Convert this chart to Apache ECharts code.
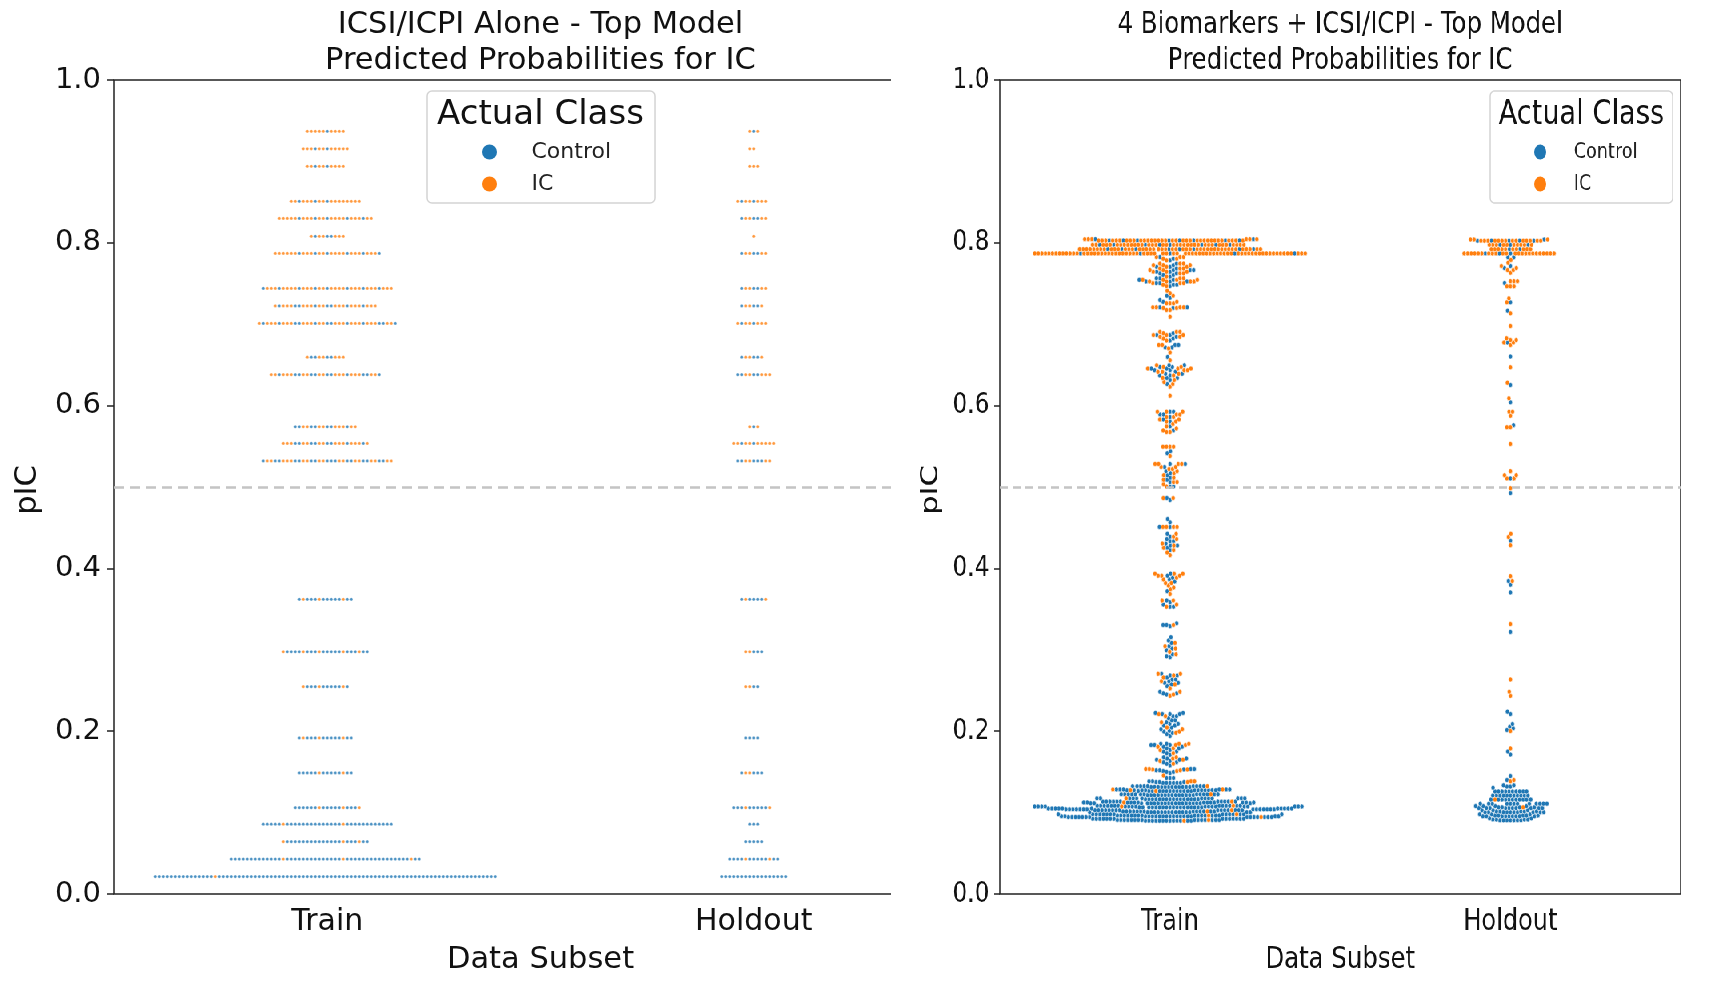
<!DOCTYPE html>
<html><head><meta charset="utf-8">
<style>
html,body{margin:0;padding:0;background:#fff;width:1712px;height:981px;overflow:hidden}
#left{position:absolute;left:0;top:0;width:1000px;height:981px;z-index:1}
#right{position:absolute;left:891px;top:0;width:1026.25px;height:981px;z-index:2;background:#fff;transform-origin:0 0;transform:scaleX(0.8)}
</style>
<script src="https://cdn.jsdelivr.net/npm/echarts@6/dist/echarts.min.js"></script>
</head><body><div id="left"></div><div id="right"></div>
<script>
const categories=['Train','Holdout'];
const classNames=['Control','IC'];
const yTicks=[0,0.2,0.4,0.6,0.8,1.0];
const leftTitle='ICSI/ICPI Alone - Top Model\nPredicted Probabilities for IC';
const rightTitle='4 Biomarkers + ICSI/ICPI - Top Model\nPredicted Probabilities for IC';
// each row: [pIC, control count, IC count]
const leftTrain=[[.0214,85,1],[.0429,45,3],[.0643,19,3],[.0858,31,2],[.106,14,3],[.1488,12,2],[.1917,11,3],[.2547,9,3],[.2976,17,5],[.362,11,3],
[.532,16,17],[.5535,8,14],[.574,7,9],[.638,11,17],[.6595,4,6],[.701,12,23],[.7225,8,18],[.744,8,25],[.787,6,21],[.808,3,6],[.83,5,19],[.851,3,15],[.894,2,8],[.9155,2,10],[.937,1,9]];
const leftHoldout=[[.0214,17,0],[.0429,11,2],[.0643,5,0],[.0858,3,0],[.106,8,2],[.1488,4,2],[.1917,4,0],[.2547,2,2],[.2976,3,2],[.362,5,2],
[.532,5,4],[.5535,2,9],[.574,1,2],[.638,4,5],[.6595,3,3],[.701,2,6],[.7225,3,3],[.744,3,4],[.787,3,4],[.808,0,1],[.83,3,4],[.851,2,6],[.894,0,3],[.9155,0,2],[.937,1,2]];
const rightTrain=[
[.09,13,1],[.091,15,1],[.0925,14,0],[.0945,14,1],
[.0955,18,0],[.0965,15,1],[.098,15,1],
[.1005,16,0],[.1015,13,1],[.103,15,1],[.104,14,0],[.105,11,0],
[.1065,18,0],[.1075,17,1],[.1085,13,1],
[.1115,20,0],[.1125,13,1],[.1135,11,1],
[.1165,16,0],[.1175,13,1],
[.1215,14,0],[.1225,13,1],
[.1265,13,1],[.1275,11,1],[.1285,6,2],
[.1315,12,0],[.1325,9,1],
[.1365,6,0],[.1375,3,1],[.1385,2,2],
[.1425,3,0],[.1455,0,1],
[.1485,1,0],[.15,2,0],[.151,1,1],[.152,2,1],[.153,1,2],[.1535,2,2],
[.158,1,0],[.16,1,1],[.162,2,0],[.1635,1,1],[.165,2,1],[.1665,2,1],[.168,1,1],
[.171,1,0],[.173,1,1],[.175,2,0],[.177,1,1],[.179,2,1],[.181,2,1],[.183,3,2],[.1845,2,2],
[.1941,1,0],[.1965,1,0],[.198,1,1],[.1995,1,1],[.2005,1,0],[.2025,1,1],[.2045,1,1],[.207,2,0],[.209,2,0],[.211,1,1],[.2135,2,0],[.216,1,0],[.2185,2,1],[.221,3,1],[.2225,2,0],
[.2434,0,1],[.245,1,1],[.2465,2,0],[.2485,1,1],[.2525,0,1],[.2555,1,0],[.2575,1,1],[.2595,2,0],[.2615,1,1],[.2635,2,0],[.266,1,1],[.2685,2,1],[.2705,1,2],
[.2908,1,0],[.292,1,0],[.2945,1,1],[.2975,0,1],[.2995,1,0],[.3015,1,1],[.3045,1,1],[.3085,1,1],[.3115,1,0],[.3155,1,0],
[.329,1,0],[.3305,2,1],[.3325,1,0],
[.3529,2,1],[.3555,1,1],[.3585,1,0],[.3605,1,2],
[.3686,0,1],[.372,1,0],[.3745,0,1],[.3765,0,1],[.379,0,1],[.382,0,2],[.384,1,0],[.3865,1,1],[.3885,1,1],[.391,1,3],[.3935,1,3],
[.4163,0,1],[.4195,0,1],[.4225,1,1],[.4255,1,1],[.428,2,1],[.4305,1,1],[.4335,2,0],[.436,1,1],[.439,1,1],[.4425,1,1],[.451,2,4],[.4566,1,0],[.4606,1,0],
[.484,1,0],[.4864,1,2],
[.5005,2,1],[.5035,0,1],[.506,1,2],[.509,1,1],[.5115,1,1],[.5145,1,1],[.517,1,1],[.5195,1,1],[.522,0,2],[.5245,1,2],[.5283,2,4],
[.5381,0,1],[.5415,1,0],[.544,1,0],[.5495,0,4],
[.5676,0,2],[.5695,1,1],[.572,0,1],[.5745,1,1],[.5775,0,1],[.5805,1,2],[.583,1,2],[.586,1,2],[.589,2,2],[.5925,2,3],
[.6122,0,1],
[.6233,0,1],[.6265,1,1],[.629,0,1],[.6315,1,1],[.634,2,1],[.637,2,1],[.639,2,1],[.6415,1,2],[.6435,2,2],[.6455,2,3],[.6475,2,2],[.6495,2,1],
[.6558,0,1],[.6598,1,0],[.6653,0,1],[.6703,0,1],[.6715,2,0],[.6745,2,2],[.68,1,1],[.6825,1,1],[.6845,1,2],[.6866,2,3],[.689,1,1],[.6906,0,3],
[.7092,0,1],[.7175,0,2],[.72,1,2],[.7208,2,4],[.7257,0,3],[.7275,1,1],[.7298,1,0],[.7325,1,0],[.735,1,1],[.738,0,1],[.7412,0,1],
[.7469,1,1],[.7485,2,1],[.7505,2,3],[.7525,3,4],[.7545,2,4],[.7565,2,2],[.7585,1,1],[.7605,2,0],[.7625,2,2],[.7645,2,3],[.7665,3,2],[.7685,1,3],[.7705,2,2],[.7725,1,3],[.7745,1,3],[.7785,1,1],[.7805,1,2],[.7825,1,3],
[.787,5,70],[.7922,8,44],[.7975,8,36],[.8027,8,34],[.8045,2,6]];
const rightHoldout=[
[.0905,7,0],[.0915,4,0],[.093,2,0],[.0955,9,0],[.0965,5,0],[.098,3,0],[.1005,10,0],[.1015,5,0],[.103,3,0],[.1055,10,0],[.1065,4,1],[.108,4,0],[.111,12,0],[.116,11,1],[.121,11,0],[.126,10,0],[.1305,1,0],[.132,2,0],[.1335,2,0],
[.1385,0,1],[.14,1,1],[.1449,1,0],[.1713,1,0],[.175,1,0],[.1789,0,1],[.2002,0,1],[.2015,1,0],[.2035,1,0],[.2055,1,0],[.2088,1,0],[.2211,1,0],[.224,1,0],
[.2434,0,1],[.2485,0,1],[.2635,0,1],[.322,1,0],[.3316,0,1],[.3705,1,0],[.38,1,0],[.3845,1,1],[.3905,0,1],[.4285,0,1],[.434,1,0],[.4385,0,1],[.4425,0,1],
[.4925,1,0],[.4985,0,1],[.5105,1,2],[.5145,0,2],[.5195,0,1],
[.5529,0,1],[.5734,0,2],[.576,1,0],[.5875,0,1],[.5925,0,2],[.6041,1,0],[.609,0,1],[.6253,1,0],[.6281,0,1],[.6471,0,1],[.6602,1,0],[.6745,0,1],[.6775,1,2],[.6805,0,2],[.6827,0,1],[.6978,0,1],[.7133,0,1],[.7166,1,0],[.7269,1,1],[.7318,0,1],[.7466,0,3],[.7507,1,0],[.7529,0,3],[.7633,0,1],[.7665,0,2],[.769,1,1],[.7715,1,1],[.7756,0,1],[.779,0,1],[.7822,2,0],
[.787,3,23],[.7922,2,10],[.7975,3,10],[.8025,5,14],[.804,1,3]];

const FONT='DejaVu Sans';
const BLUE='#1f77b4',ORANGE='#ff7f0e';
const PLOT_H=814;

function swarm(bins,d,cat,unit){
  const placed=[];const out=[[],[]];
  bins.slice().sort((a,b)=>a[0]-b[0]).forEach(([v,c,i])=>{
    const n=c+i;
    // spread the control points evenly through the row's placement order
    const order=[...Array(n).keys()].sort((p,q)=>((p*0.618034)%1)-((q*0.618034)%1));
    const ctrl=new Set(order.slice(0,c));
    for(let k=0;k<n;k++){
      const y=v*PLOT_H;
      const nb=placed.filter(p=>Math.abs(p.y-y)<d);
      const cand=[0];
      nb.forEach(p=>{const o=Math.sqrt(d*d-(p.y-y)*(p.y-y));cand.push(p.x-o,p.x+o);});
      cand.sort((a,b)=>Math.abs(a)-Math.abs(b));
      let x=0;
      for(const q of cand){
        if(nb.every(p=>(p.x-q)*(p.x-q)+(p.y-y)*(p.y-y)>=d*d-1e-6)){x=q;break;}
      }
      placed.push({x,y});
      out[ctrl.has(k)?0:1].push([cat+x/unit,v]);
    }
  });
  return out;
}

function panel(cfg){
  const unit=cfg.gridW/2;
  const a=swarm(cfg.train,cfg.d,0,unit),b=swarm(cfg.holdout,cfg.d,1,unit);
  const series=classNames.map((name,idx)=>({
    name,type:'scatter',xAxisIndex:1,yAxisIndex:0,
    data:a[idx].concat(b[idx]),
    symbol:'circle',symbolSize:cfg.size,
    itemStyle:{color:idx?ORANGE:BLUE,borderColor:'#fff',borderWidth:cfg.edge,opacity:cfg.opacity},
    silent:true,animation:false,
    markLine:idx?undefined:{silent:true,symbol:'none',animation:false,label:{show:false},
      lineStyle:{color:'#c4c4c4',type:[10,6],width:2.5},data:[{yAxis:0.5}]}
  }));
  return {
    animation:false,backgroundColor:'#fff',
    title:[
      {text:cfg.title,left:cfg.gridL+unit,top:7,padding:0,textAlign:'center',
       textStyle:{fontFamily:FONT,fontSize:30.5,lineHeight:36,fontWeight:'normal',color:'#111'}},
      {text:'Actual Class',left:cfg.legendCx,top:98,padding:0,textAlign:'center',z:10,
       textStyle:{fontFamily:FONT,fontSize:34,fontWeight:'normal',color:'#111'}}
    ],
    legend:{data:classNames,orient:'vertical',left:cfg.legendL,top:91,selectedMode:false,
      itemWidth:74,itemHeight:15,itemGap:10,padding:[50,44,8,55],
      itemStyle:{borderWidth:0,opacity:1},
      backgroundColor:'#fff',borderColor:'#d4d4d4',borderWidth:1.5,borderRadius:5,
      textStyle:{fontFamily:FONT,fontSize:22,color:'#222'}},
    grid:{left:cfg.gridL,top:80,width:cfg.gridW,height:PLOT_H,show:true,borderColor:'#222',borderWidth:1.5,backgroundColor:'transparent',outerBoundsMode:'none'},
    xAxis:[
      {type:'category',data:categories,boundaryGap:true,
       axisLine:{show:false},axisTick:{alignWithLabel:true,length:7,lineStyle:{color:'#222',width:1.5}},
       axisLabel:{fontFamily:FONT,fontSize:30,color:'#111',margin:13},
       name:'Data Subset',nameLocation:'middle',nameGap:51,
       nameTextStyle:{fontFamily:FONT,fontSize:30.5,color:'#111'}},
      {type:'value',min:-0.5,max:1.5,show:false}
    ],
    yAxis:{type:'value',min:yTicks[0],max:yTicks[yTicks.length-1],interval:0.2,
      axisLine:{show:false,onZero:false},splitLine:{show:false},
      axisTick:{show:true,length:7,lineStyle:{color:'#222',width:1.5}},
      axisLabel:{fontFamily:FONT,fontSize:29,color:'#111',margin:13,padding:[3,0,0,0],formatter:v=>v.toFixed(1)},
      name:'pIC',nameLocation:'middle',nameGap:cfg.nameGap,
      nameTextStyle:{fontFamily:FONT,fontSize:30.5,color:'#111',padding:[0,6,0,0]}},
    series
  };
}
echarts.init(document.getElementById('left')).setOption(panel({
  title:leftTitle,train:leftTrain,holdout:leftHoldout,d:4,size:3.2,edge:0.4,opacity:0.8,
  gridL:114,gridW:853,legendL:427,legendCx:540.5,nameGap:67}));
echarts.init(document.getElementById('right')).setOption(panel({
  title:rightTitle,train:rightTrain,holdout:rightHoldout,d:4.4,size:5,edge:0.6,opacity:1,
  gridL:136,gridW:851,legendL:749,legendCx:863,nameGap:66}));
</script></body></html>
